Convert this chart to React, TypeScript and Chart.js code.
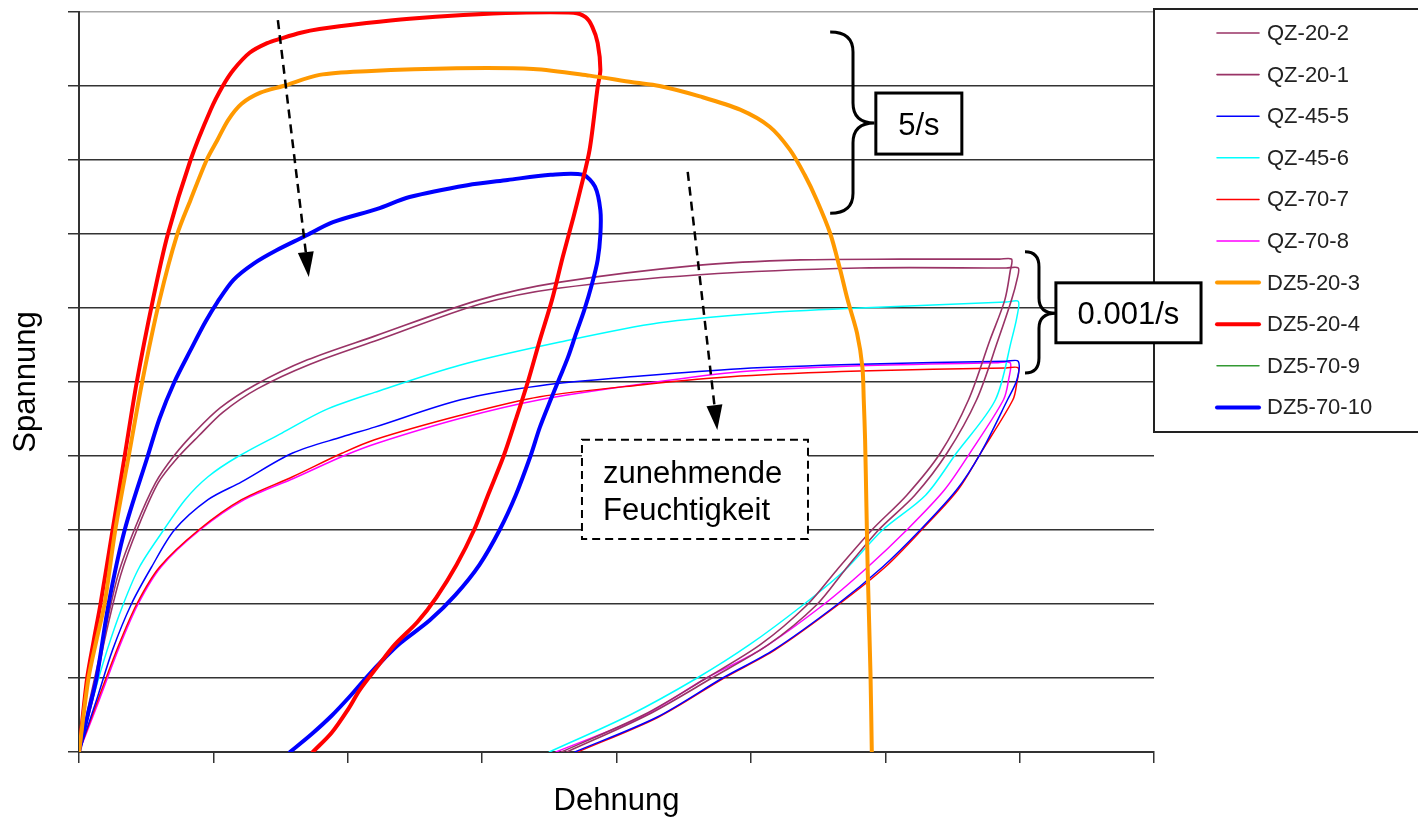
import { useEffect, useRef } from "react";
import { Chart, registerables } from "chart.js";

Chart.register(...registerables);

type Pair = [number, number];

const FONT = '"Liberation Sans", Arial, Helvetica, sans-serif';

// Dehnung / Spannung pairs for each specimen (loading path, then unloading)
const qz202: Pair[] = [
  [0, 0], [0.08, 7.0], [0.18, 15.1], [0.29, 23.9], [0.42, 30.4], [0.57, 36.4], [0.71, 40.1],
  [0.86, 43.2], [1.05, 46.5], [1.31, 49.6], [1.70, 53.0], [2.20, 56.2], [2.98, 61.1], [3.58, 63.5],
  [4.62, 65.8], [5.37, 66.5], [6.11, 66.6], [6.85, 66.6], [6.94, 66.6], [6.93, 65.0], [6.89, 61.1],
  [6.78, 55.7], [6.62, 47.6], [6.41, 40.4], [6.16, 34.7], [5.90, 30.0], [5.64, 24.6], [5.42, 19.9],
  [5.07, 14.5], [4.67, 10.0], [4.20, 5.0], [3.59, 0],
];
const qz201: Pair[] = [
  [0, 0], [0.10, 7.0], [0.19, 15.1], [0.31, 23.9], [0.44, 30.4], [0.59, 36.4], [0.74, 39.9],
  [0.89, 42.7], [1.07, 45.9], [1.33, 49.1], [1.72, 52.4], [2.23, 55.7], [2.98, 60.5], [3.58, 62.7],
  [4.62, 64.5], [5.81, 65.4], [6.90, 65.4], [6.99, 65.4], [6.98, 63.8], [6.94, 61.1], [6.84, 55.7],
  [6.68, 47.6], [6.46, 40.4], [6.22, 34.7], [5.95, 30.0], [5.70, 24.6], [5.49, 19.9], [5.13, 14.5],
  [4.71, 10.0], [4.23, 5.0], [3.63, 0],
];
const qz455: Pair[] = [
  [0, 0], [0.13, 7.0], [0.25, 13.8], [0.39, 20.0], [0.54, 25.0], [0.71, 30.0], [0.96, 34.1],
  [1.21, 36.5], [1.59, 40.4], [1.96, 42.6], [2.20, 43.9], [2.84, 47.6], [3.43, 49.5], [4.18, 50.8],
  [4.92, 51.8], [5.81, 52.4], [6.90, 52.8], [6.99, 52.8], [6.98, 50.3], [6.91, 47.6], [6.71, 40.4],
  [6.53, 35.4], [6.26, 30.0], [5.98, 25.0], [5.64, 19.9], [5.17, 13.8], [4.79, 10.0], [4.30, 4.7],
  [3.69, 0],
];
const qz456: Pair[] = [
  [0, 0], [0.10, 7.0], [0.21, 13.8], [0.33, 20.0], [0.45, 25.0], [0.63, 30.0], [0.79, 34.1],
  [0.96, 37.2], [1.18, 39.9], [1.51, 43.1], [1.83, 46.2], [2.20, 48.6], [2.84, 52.3], [3.58, 55.4],
  [4.32, 58.0], [5.07, 59.3], [5.81, 60.0], [6.90, 60.8], [6.99, 60.9], [6.98, 58.8], [6.94, 55.7],
  [6.82, 47.6], [6.53, 40.4], [6.30, 34.7], [5.98, 30.0], [5.70, 24.6], [5.39, 19.9], [4.99, 14.5],
  [4.60, 10.0], [4.10, 5.0], [3.50, 0],
];
const qz707: Pair[] = [
  [0, 0], [0.14, 7.0], [0.29, 14.2], [0.43, 20.0], [0.60, 25.0], [0.89, 30.0], [1.21, 34.1],
  [1.59, 37.2], [1.96, 40.4], [2.20, 42.2], [2.84, 45.5], [3.43, 48.0], [4.18, 49.6], [4.92, 50.8],
  [5.81, 51.5], [6.90, 51.9], [6.99, 51.9], [6.98, 50.0], [6.95, 47.6], [6.71, 40.4], [6.54, 35.4],
  [6.27, 30.0], [6.00, 25.0], [5.65, 19.9], [5.18, 13.8], [4.80, 10.0], [4.31, 4.7], [3.71, 0],
];
const qz708: Pair[] = [
  [0, 0], [0.15, 7.0], [0.30, 14.2], [0.44, 20.0], [0.61, 25.0], [0.90, 30.0], [1.23, 34.1],
  [1.60, 37.0], [1.98, 40.1], [2.23, 41.8], [2.84, 45.1], [3.43, 47.6], [4.18, 49.7], [4.92, 51.4],
  [5.81, 52.2], [6.84, 52.6], [6.93, 52.6], [6.92, 50.5], [6.88, 47.6], [6.63, 40.4], [6.44, 35.4],
  [6.16, 30.0], [5.87, 25.0], [5.54, 19.9], [5.07, 13.8], [4.67, 10.0], [4.18, 4.7], [3.55, 0],
];
const dz5203: Pair[] = [
  [0, 0], [0.07, 9.9], [0.13, 15.1], [0.19, 20.0], [0.27, 30.0], [0.37, 40.0], [0.47, 50.0],
  [0.60, 61.1], [0.73, 69.9], [0.83, 74.6], [0.95, 80.0], [1.03, 82.7], [1.11, 85.4], [1.21, 87.6],
  [1.35, 89.1], [1.52, 90.0], [1.79, 91.5], [2.14, 92.0], [2.81, 92.4], [3.38, 92.3], [3.80, 91.4],
  [4.12, 90.5], [4.32, 90.0], [4.62, 88.6], [4.92, 86.8], [5.14, 84.5], [5.29, 81.4], [5.40, 78.0],
  [5.49, 74.6], [5.59, 70.1], [5.66, 65.5], [5.72, 61.1], [5.79, 56.6], [5.83, 52.0], [5.84, 47.6],
  [5.85, 42.2], [5.86, 33.1], [5.87, 24.2], [5.89, 10.7], [5.90, 0],
];
const dz5204: Pair[] = [
  [0, 0], [0.06, 9.9], [0.11, 15.1], [0.16, 20.0], [0.25, 30.0], [0.34, 40.0], [0.43, 50.0],
  [0.55, 61.1], [0.66, 69.9], [0.83, 80.0], [0.98, 86.8], [1.07, 90.0], [1.15, 92.2], [1.27, 94.5],
  [1.40, 95.8], [1.50, 96.4], [1.65, 97.2], [1.79, 97.7], [2.14, 98.5], [2.46, 99.1], [2.86, 99.6],
  [3.26, 99.9], [3.68, 99.9], [3.77, 99.3], [3.82, 98.0], [3.86, 95.8], [3.88, 92.2], [3.86, 89.9],
  [3.80, 81.4], [3.73, 75.9], [3.68, 72.3], [3.60, 66.9], [3.52, 61.1], [3.43, 55.7], [3.34, 50.0],
  [3.25, 44.9], [3.16, 40.0], [3.05, 35.0], [2.94, 30.0], [2.81, 25.3], [2.66, 20.9], [2.52, 17.6],
  [2.35, 14.5], [2.22, 11.5], [2.09, 8.4], [2.00, 5.7], [1.88, 2.6], [1.74, 0],
];
const dz5709: Pair[] = [];
const dz5710: Pair[] = [
  [0, 0], [0.07, 5.4], [0.13, 9.9], [0.22, 20.0], [0.34, 30.0], [0.51, 39.9], [0.60, 45.1],
  [0.71, 50.0], [0.83, 54.3], [0.94, 58.1], [1.03, 60.8], [1.15, 63.8], [1.30, 66.0], [1.47, 67.8],
  [1.67, 69.6], [1.89, 71.6], [2.22, 73.4], [2.46, 75.0], [2.89, 76.6], [3.19, 77.3], [3.51, 78.0],
  [3.75, 78.0], [3.84, 76.4], [3.88, 73.2], [3.88, 69.9], [3.86, 66.5], [3.82, 63.4], [3.76, 59.7],
  [3.70, 56.6], [3.64, 53.4], [3.58, 50.7], [3.51, 47.6], [3.43, 43.9], [3.36, 40.0], [3.25, 34.7],
  [3.13, 30.0], [2.98, 25.3], [2.80, 21.2], [2.61, 17.8], [2.39, 14.7], [2.27, 12.6], [2.14, 10.1],
  [2.02, 7.6], [1.88, 4.9], [1.73, 2.4], [1.57, 0],
];

const seriesLabels = [
  "QZ-20-2", "QZ-20-1", "QZ-45-5", "QZ-45-6", "QZ-70-7",
  "QZ-70-8", "DZ5-20-3", "DZ5-20-4", "DZ5-70-9", "DZ5-70-10",
];
const seriesData = [qz202, qz201, qz455, qz456, qz707, qz708, dz5203, dz5204, dz5709, dz5710];
const seriesColors = [
  "#993366", "#993366", "#0000ff", "#00ffff", "#ff0000",
  "#ff00ff", "#ff9900", "#ff0000", "#339933", "#0000ff",
];
const seriesWidths = [1.6, 1.6, 1.5, 1.5, 1.5, 1.5, 4, 4, 1.5, 4];

// axis ranges (no tick labels are shown)
const xMax = 8;
const yMax = 100;
const xStep = 1;
const yStep = 10;

// annotation anchors in data units
const fastRate = { text: "5/s", x0: 5.59, xv: 5.76, xt: 5.92, top: 97.3, mid: 85.0, bot: 72.8, boxL: 5.93, boxR: 6.57, boxT: 89.05, boxB: 80.8 };
const slowRate = { text: "0.001/s", x0: 7.04, xv: 7.144, xt: 7.27, top: 67.6, mid: 59.3, bot: 51.2, boxL: 7.27, boxR: 8.35, boxT: 63.4, boxB: 55.3 };
const humidityArrows = [
  { x1: 1.48, y1: 98.9, x2: 1.71, y2: 64.2 },
  { x1: 4.53, y1: 78.4, x2: 4.75, y2: 43.5 },
];
const humidityNote = { lines: ["zunehmende", "Feuchtigkeit"], left: 3.743, right: 5.425, top: 42.2, bottom: 28.8 };

function drawBrace(ctx: CanvasRenderingContext2D, x0: number, xv: number, xt: number, top: number, mid: number, bot: number, r: number) {
  ctx.beginPath();
  ctx.moveTo(x0, top);
  ctx.quadraticCurveTo(xv, top, xv, top + r);
  ctx.lineTo(xv, mid - r);
  ctx.quadraticCurveTo(xv, mid, xt, mid);
  ctx.quadraticCurveTo(xv, mid, xv, mid + r);
  ctx.lineTo(xv, bot - r);
  ctx.quadraticCurveTo(xv, bot, x0, bot);
  ctx.stroke();
}

function drawDashedArrow(ctx: CanvasRenderingContext2D, x1: number, y1: number, x2: number, y2: number) {
  const ang = Math.atan2(y2 - y1, x2 - x1);
  const headLen = 25;
  const headW = 8;
  const bx = x2 - headLen * Math.cos(ang);
  const by = y2 - headLen * Math.sin(ang);
  ctx.save();
  ctx.strokeStyle = "#000";
  ctx.fillStyle = "#000";
  ctx.lineWidth = 2.5;
  ctx.setLineDash([9, 6]);
  ctx.beginPath();
  ctx.moveTo(x1, y1);
  ctx.lineTo(bx, by);
  ctx.stroke();
  ctx.setLineDash([]);
  ctx.beginPath();
  ctx.moveTo(x2, y2);
  ctx.lineTo(bx + headW * Math.sin(ang), by - headW * Math.cos(ang));
  ctx.lineTo(bx - headW * Math.sin(ang), by + headW * Math.cos(ang));
  ctx.closePath();
  ctx.fill();
  ctx.restore();
}

const overlayPlugin = {
  id: "overlay",
  afterDraw(chart: Chart) {
    const { ctx } = chart;
    const xs = chart.scales.x;
    const ys = chart.scales.y;
    const px = (v: number) => xs.getPixelForValue(v);
    const py = (v: number) => ys.getPixelForValue(v);
    const area = chart.chartArea;

    ctx.save();

    // legend box
    const legLeft = area.right;
    const legTop = 9;
    const legBottom = 432;
    ctx.fillStyle = "#fff";
    ctx.fillRect(legLeft, legTop, chart.width - legLeft + 10, legBottom - legTop);
    ctx.strokeStyle = "#222";
    ctx.lineWidth = 2;
    ctx.strokeRect(legLeft, legTop, chart.width - legLeft + 10, legBottom - legTop);
    ctx.font = `22px ${FONT}`;
    ctx.textBaseline = "middle";
    ctx.textAlign = "left";
    chart.data.datasets.forEach((ds: any, i: number) => {
      const yy = 33 + i * 41.6;
      ctx.strokeStyle = ds.borderColor;
      ctx.lineWidth = ds.borderWidth;
      ctx.lineCap = "round";
      ctx.beginPath();
      ctx.moveTo(legLeft + 63, yy);
      ctx.lineTo(legLeft + 105, yy);
      ctx.stroke();
      ctx.fillStyle = "#222";
      ctx.fillText(ds.label, legLeft + 113, yy + 1);
    });
    ctx.lineCap = "butt";

    // dashed arrows
    humidityArrows.forEach((a) => drawDashedArrow(ctx, px(a.x1), py(a.y1), px(a.x2), py(a.y2)));

    // dashed note box
    {
      const l = px(humidityNote.left), r = px(humidityNote.right);
      const t = py(humidityNote.top), b = py(humidityNote.bottom);
      ctx.fillStyle = "#fff";
      ctx.fillRect(l, t, r - l, b - t);
      ctx.strokeStyle = "#000";
      ctx.lineWidth = 2;
      ctx.setLineDash([8, 5]);
      ctx.strokeRect(l, t, r - l, b - t);
      ctx.setLineDash([]);
      ctx.fillStyle = "#000";
      ctx.font = `31px ${FONT}`;
      ctx.textBaseline = "alphabetic";
      ctx.textAlign = "left";
      ctx.fillText(humidityNote.lines[0], l + 21, t + 43);
      ctx.fillText(humidityNote.lines[1], l + 21, t + 80);
    }

    // strain-rate braces and labels
    [fastRate, slowRate].forEach((n, k) => {
      ctx.strokeStyle = "#000";
      ctx.lineWidth = 3;
      drawBrace(ctx, px(n.x0), px(n.xv), px(n.xt), py(n.top), py(n.mid), py(n.bot), k === 0 ? 20 : 15);
      const l = px(n.boxL), r = px(n.boxR), t = py(n.boxT), b = py(n.boxB);
      ctx.fillStyle = "#fff";
      ctx.fillRect(l, t, r - l, b - t);
      ctx.strokeRect(l, t, r - l, b - t);
      ctx.fillStyle = "#000";
      ctx.font = `31px ${FONT}`;
      ctx.textAlign = "center";
      ctx.textBaseline = "alphabetic";
      ctx.fillText(n.text, (l + r) / 2, (t + b) / 2 + 11.5);
    });

    ctx.restore();
  },
};

export default function App() {
  const canvasRef = useRef<HTMLCanvasElement | null>(null);

  useEffect(() => {
    const canvas = canvasRef.current;
    if (!canvas) return;
    const datasets = seriesLabels.map((label, i) => ({
      label,
      data: seriesData[i].map(([x, y]) => ({ x, y })),
      borderColor: seriesColors[i],
      backgroundColor: seriesColors[i],
      borderWidth: seriesWidths[i],
      showLine: true,
      fill: false,
      pointRadius: 0,
      tension: 0.3,
      order: label.startsWith("DZ") ? 0 : 1,
    }));

    const chart = new Chart(canvas, {
      type: "scatter",
      data: { datasets },
      options: {
        responsive: false,
        animation: false,
        events: [],
        layout: { padding: { left: 8, top: 12, right: 264, bottom: 0 } },
        plugins: { legend: { display: false }, tooltip: { enabled: false } },
        elements: { line: { borderCapStyle: "round", borderJoinStyle: "round" } },
        scales: {
          x: {
            type: "linear",
            min: 0,
            max: xMax,
            ticks: { stepSize: xStep, display: false },
            grid: { drawOnChartArea: false, tickLength: 11, tickColor: "#333", lineWidth: 1.5 },
            border: { color: "#333", width: 2 },
            title: { display: true, text: "Dehnung", color: "#000", font: { family: FONT, size: 31 }, padding: { top: 19.8, bottom: 0 } },
          },
          y: {
            type: "linear",
            min: 0,
            max: yMax,
            ticks: { stepSize: yStep, display: false },
            grid: {
              color: (c: any) => (c.tick && c.tick.value === yMax ? "#a6a6a6" : "#333"),
              lineWidth: 1.5,
              tickLength: 11,
              tickColor: "#333",
            },
            border: { color: "#333", width: 2 },
            title: { display: true, text: "Spannung", color: "#000", font: { family: FONT, size: 31 }, padding: { top: 0, bottom: 22.8 } },
          },
        },
      },
      plugins: [overlayPlugin as any],
    } as any);

    return () => chart.destroy();
  }, []);

  return (
    <div style={{ position: "fixed", left: 0, top: 0, width: 1418, height: 820, background: "#fff" }}>
      <canvas ref={canvasRef} width={1418} height={820} style={{ display: "block" }} />
    </div>
  );
}
